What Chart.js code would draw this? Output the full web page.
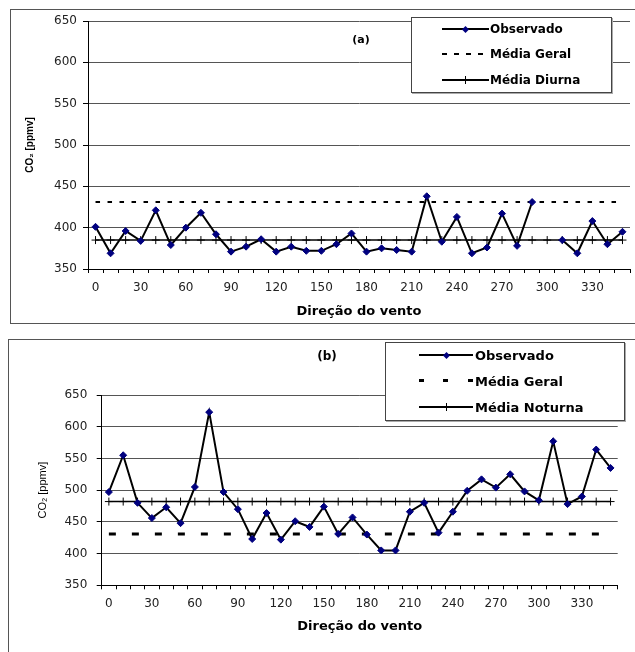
<!DOCTYPE html>
<html lang="pt">
<head>
  <meta charset="UTF-8">
  <title>CO2 x Direção do vento</title>
  <script src="https://cdn.jsdelivr.net/npm/chart.js"></script>
  <style>
    body { margin: 0; width: 635px; height: 652px; overflow: hidden; position: relative; background: #fff; font-family: 'DejaVu Sans', sans-serif; }
    .quadro { position: absolute; border: 1px solid #555; }
    canvas { position: absolute; left: 0; }
    .legenda { position: absolute; background: #fff; border: 1px solid #444; box-shadow: 1px 1px 0 #aaa; font-weight: bold; color: #000; }
    .item { position: absolute; left: 0; right: 0; height: 0; }
    .item .txt { position: absolute; top: 0; transform: translateY(-50%); white-space: nowrap; }
    .amostra { position: absolute; }
    .rotulo { position: absolute; font-weight: bold; transform: translate(-50%, -50%); }
  </style>
</head>
<body>

  <!-- Molduras dos dois gráficos -->
  <div class="quadro" style="left:10px; top:9px; width:700px; height:313px;"></div>
  <div class="quadro" style="left:8px; top:339px; width:700px; height:400px;"></div>

  <canvas id="graficoDia" width="635" height="330" style="top:0;"></canvas>
  <canvas id="graficoNoite" width="635" height="322" style="top:330px;"></canvas>

  <div class="rotulo" style="left:361px; top:39px; font-size:11px;">(a)</div>
  <div class="rotulo" style="left:327px; top:356px; font-size:12px;">(b)</div>

  <div class="legenda" id="legendaDia" style="left:411px; top:17px; width:199px; height:74px; font-size:12px;"></div>
  <div class="legenda" id="legendaNoite" style="left:385px; top:342px; width:238px; height:77px; font-size:13px;"></div>

  <script>
    // Dados
    const direcoes = [0, 10, 20, 30, 40, 50, 60, 70, 80, 90, 100, 110, 120, 130, 140, 150, 160, 170,
                      180, 190, 200, 210, 220, 230, 240, 250, 260, 270, 280, 290, 300, 310, 320, 330, 340, 350];
    const observadoDia = [401, 369, 396, 384, 421, 379, 400, 418, 392, 371, 377, 386, 371, 377, 372, 372, 380, 393,
                          371, 375, 373, 371, 438, 383, 413, 369, 376, 417, 378, 431, null, 385, 369, 408, 380, 395];
    const observadoNoite = [497, 555, 480, 456, 473, 448, 505, 623, 497, 470, 423, 464, 422, 451, 442, 474, 431, 457,
                            430, 405, 405, 466, 480, 433, 466, 499, 517, 504, 525, 498, 484, 577, 478, 490, 564, 535];
    const mediaGeral = 431;
    const mediaDiurna = 385;
    const mediaNoturna = 482;
    const limitesY = [350, 650];
    const passoY = 50;

    Chart.defaults.font.family = "'DejaVu Sans', sans-serif";

    // Cria um dos gráficos (a) ou (b)
    function criarGrafico(id, observado, media, p) {
      const ctx = document.getElementById(id).getContext('2d');
      return new Chart(ctx, {
        type: 'line',
        data: {
          labels: direcoes,
          datasets: [
            {
              label: 'Observado',
              data: observado,
              borderColor: '#000',
              borderWidth: 2,
              pointStyle: 'rectRot',
              pointRadius: 3.5,
              pointBackgroundColor: '#00007f',
              pointBorderColor: '#00007f',
              pointBorderWidth: 1,
              spanGaps: false
            },
            {
              label: 'Média Geral',
              data: direcoes.map(() => mediaGeral),
              borderColor: '#000',
              borderWidth: p.espessuraGeral,
              borderDash: p.tracoGeral,
              pointRadius: 0
            },
            {
              label: media.nome,
              data: direcoes.map(() => media.valor),
              borderColor: '#000',
              borderWidth: 1.5,
              pointStyle: 'cross',
              pointRadius: 4,
              pointBorderColor: '#000',
              pointBorderWidth: 1
            }
          ]
        },
        options: {
          responsive: false,
          animation: false,
          layout: { padding: { top: p.topo, right: p.direita, left: 0, bottom: 0 } },
          plugins: { legend: { display: false }, tooltip: { enabled: false } },
          scales: {
            x: {
              offset: true,
              grid: { offset: true, drawOnChartArea: false, tickLength: 4, color: '#000' },
              border: { color: '#000' },
              ticks: {
                autoSkip: false, maxRotation: 0, padding: p.padX, color: '#222', font: { size: 12 },
                callback: (v, i) => i % 3 === 0 ? direcoes[i] : ''
              },
              title: {
                display: true, text: 'Direção do vento', color: '#000',
                font: { size: 13, weight: 'bold' }, padding: { top: 0, bottom: p.tituloX }
              },
              afterFit: s => { s.height = p.alturaX; }
            },
            y: {
              min: limitesY[0],
              max: limitesY[1],
              ticks: { stepSize: passoY, padding: p.padY, color: '#222', font: { size: 12 } },
              grid: { color: '#555', tickLength: 5, tickColor: '#000' },
              border: { color: '#000' },
              title: {
                display: true, text: 'CO₂ [ppmv]', color: '#000',
                font: p.fonteTituloY, padding: { top: p.tituloY, bottom: 0 }
              },
              afterFit: s => { s.width = p.larguraY; }
            }
          }
        }
      });
    }

    criarGrafico('graficoDia', observadoDia, { nome: 'Média Diurna', valor: mediaDiurna }, {
      topo: 21, direita: 3, padX: 8, alturaX: 61, tituloX: 11, padY: 6, larguraY: 88, tituloY: 24,
      fonteTituloY: { family: "'Liberation Sans', Arial, sans-serif", size: 10, weight: 'bold' },
      espessuraGeral: 2, tracoGeral: [4.5, 7.5]
    });

    criarGrafico('graficoNoite', observadoNoite, { nome: 'Média Noturna', valor: mediaNoturna }, {
      topo: 65, direita: 17.3, padX: 7, alturaX: 66.7, tituloX: 17.5, padY: 9.4, larguraY: 101.7, tituloY: 36,
      fonteTituloY: { family: "'Liberation Sans', Arial, sans-serif", size: 11, weight: 'normal' },
      espessuraGeral: 3, tracoGeral: [7, 16]
    });

    // Legendas em HTML, desenhadas por cima da área do gráfico
    function montarLegenda(id, itens, ini, fim, textoX, linhasY) {
      const caixa = document.getElementById(id);
      itens.forEach((it, i) => {
        const linha = document.createElement('div');
        linha.className = 'item';
        linha.style.top = linhasY[i] + 'px';

        const amostra = document.createElement('div');
        amostra.className = 'amostra';
        amostra.style.left = ini + 'px';
        amostra.style.width = (fim - ini) + 'px';
        amostra.style.height = it.espessura + 'px';
        amostra.style.top = (-it.espessura / 2) + 'px';
        amostra.style.background = it.traco
          ? `repeating-linear-gradient(to right, #000 0 ${it.traco[0]}px, transparent ${it.traco[0]}px ${it.traco[0] + it.traco[1]}px)`
          : '#000';
        linha.appendChild(amostra);

        const meio = (ini + fim) / 2;
        if (it.marcador === 'losango') {
          const m = document.createElement('div');
          m.className = 'amostra';
          m.style.cssText += `left:${meio - 2.5}px; top:-2.5px; width:5px; height:5px; background:#00007f; transform:rotate(45deg);`;
          linha.appendChild(m);
        } else if (it.marcador === 'cruz') {
          const m = document.createElement('div');
          m.className = 'amostra';
          m.style.cssText += `left:${meio - 0.5}px; top:-4px; width:1px; height:8px; background:#000;`;
          linha.appendChild(m);
        }

        const txt = document.createElement('span');
        txt.className = 'txt';
        txt.style.left = textoX + 'px';
        txt.textContent = it.nome;
        linha.appendChild(txt);

        caixa.appendChild(linha);
      });
    }

    montarLegenda('legendaDia', [
      { nome: 'Observado', espessura: 2, marcador: 'losango' },
      { nome: 'Média Geral', espessura: 2, traco: [5, 7] },
      { nome: 'Média Diurna', espessura: 1.5, marcador: 'cruz' }
    ], 29.7, 77.3, 78, [11, 36, 62]);

    montarLegenda('legendaNoite', [
      { nome: 'Observado', espessura: 2, marcador: 'losango' },
      { nome: 'Média Geral', espessura: 3, traco: [5, 19.5] },
      { nome: 'Média Noturna', espessura: 1.5, marcador: 'cruz' }
    ], 33, 87, 89, [12, 37.7, 64]);
  </script>
</body>
</html>
